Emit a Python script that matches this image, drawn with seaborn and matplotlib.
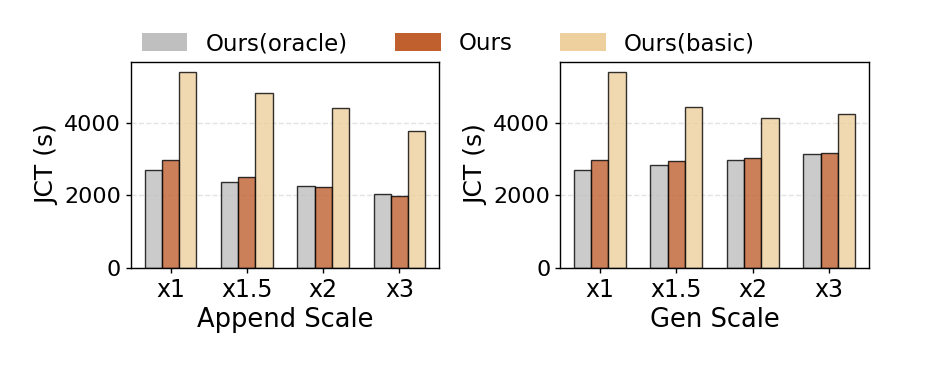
import matplotlib
matplotlib.use("Agg")
import matplotlib.pyplot as plt
from matplotlib.patches import Patch
import seaborn as sns
import pandas as pd

# data
scales = ["x1", "x1.5", "x2", "x3"]
methods = ["Ours(oracle)", "Ours", "Ours(basic)"]

append_oracle = [2700, 2380, 2250, 2030]
append_ours = [2975, 2500, 2220, 1975]
append_basic = [5410, 4830, 4425, 3765]

gen_oracle = [2700, 2840, 2990, 3140]
gen_ours = [2975, 2955, 3045, 3170]
gen_basic = [5410, 4435, 4150, 4250]

colors = ["#BFBFBF", "#C0602F", "#EDD09E"]


def to_long(oracle, ours, basic):
    rows = []
    for name, vals in zip(methods, [oracle, ours, basic]):
        for s, v in zip(scales, vals):
            rows.append({"scale": s, "method": name, "jct": v})
    return pd.DataFrame(rows)


sns.set_style("white")
plt.rcParams["font.family"] = ["DejaVu Sans"]
plt.rcParams["text.color"] = "black"
plt.rcParams["axes.labelcolor"] = "black"
plt.rcParams["xtick.color"] = "black"
plt.rcParams["ytick.color"] = "black"

fig = plt.figure(figsize=(9.42, 3.70), dpi=100)
ax1 = fig.add_axes([0.139, 0.2757, 0.327, 0.5567])
ax2 = fig.add_axes([0.5945, 0.2757, 0.328, 0.5567])

panels = [
    (ax1, to_long(append_oracle, append_ours, append_basic), "Append Scale"),
    (ax2, to_long(gen_oracle, gen_ours, gen_basic), "Gen Scale"),
]

for ax, df, xlabel in panels:
    sns.barplot(data=df, x="scale", y="jct", hue="method", order=scales,
                hue_order=methods, palette=colors, saturation=1, width=0.675,
                alpha=0.8, edgecolor="black", linewidth=1.0, ax=ax, legend=False)
    ax.set_xlim(-0.52, 3.52)
    ax.set_ylim(0, df["jct"].max() * 1.05)
    ax.set_yticks([0, 2000, 4000])
    ax.set_xlabel(xlabel, fontsize=18.5)
    ax.set_ylabel("JCT (s)", fontsize=18)
    ax.tick_params(axis="both", length=3.5, width=1, direction="out",
                   bottom=True, left=True)
    ax.tick_params(axis="x", labelsize=17)
    ax.tick_params(axis="y", labelsize=16)
    ax.set_axisbelow(True)
    ax.yaxis.grid(True, linestyle="--", color="#DDDDDD", linewidth=1.0, alpha=0.8)
    for sp in ax.spines.values():
        sp.set_color("black")
        sp.set_linewidth(1.0)

handles = [Patch(facecolor=c, edgecolor="none") for c in colors]
fig.legend(handles, methods, loc="center", bbox_to_anchor=(0.476, 0.882),
           ncol=3, frameon=False, fontsize=16.5, handlelength=2.0,
           handleheight=0.8, handletextpad=0.8, columnspacing=2.05)

fig.savefig("out.png", dpi=100)
